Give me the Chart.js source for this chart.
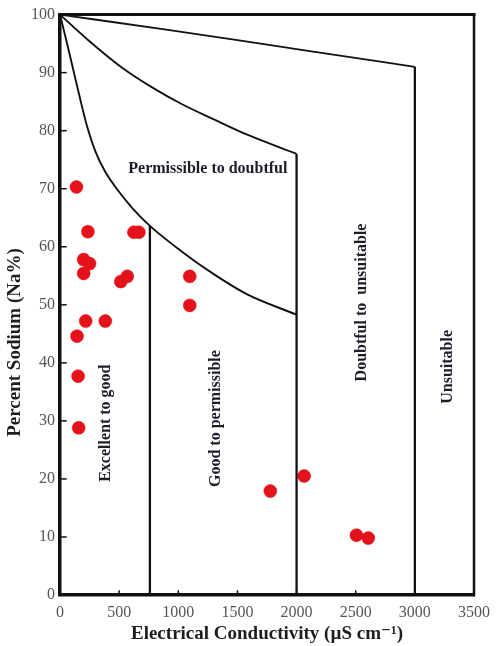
<!DOCTYPE html>
<html>
<head>
<meta charset="utf-8">
<title>Wilcox diagram</title>
<script src="https://cdn.jsdelivr.net/npm/chart.js@4.4.1/dist/chart.umd.min.js"></script>
<style>
  html, body { margin: 0; padding: 0; background: #ffffff; }
  #wrap { width: 498px; height: 646px; }
</style>
</head>
<body>
<div id="wrap"><canvas id="chart" width="498" height="646"></canvas></div>
<script>
// Water samples: electrical conductivity (µS/cm) and percent sodium
const sampleEC = [139, 236, 625, 667, 200, 250, 200, 514, 569, 1097, 1097, 217, 383, 144, 153, 158, 1778, 2064, 2506, 2606];
const sampleNa = [70.3, 62.6, 62.5, 62.5, 57.8, 57.1, 55.4, 54.0, 54.9, 54.9, 49.9, 47.2, 47.2, 44.6, 37.7, 28.8, 17.9, 20.5, 10.3, 9.8];

// Class boundaries of the Wilcox diagram
const lowerCurveEC = [0, 55, 111, 170, 231, 300, 380, 494, 619, 760, 1028, 1306, 1583, 2000];
const lowerCurveNa = [100, 95.4, 90.6, 85.5, 80.6, 76.4, 73.0, 69.6, 66.5, 63.6, 59.2, 55.2, 51.8, 48.3];
const middleCurveEC = [0, 244, 522, 800, 1028, 1306, 1583, 2000];
const middleCurveNa = [100, 95.5, 90.9, 87.2, 84.6, 81.9, 79.3, 76.0];
const upperCurveEC = [0, 883, 1500, 2083, 3000];
const upperCurveNa = [100, 97.45, 95.6, 93.8, 91.0];

// Vertical class limits: EC value and the height where each meets its curve
const limitEC = [760, 2000, 3000];
const limitNa = [63.6, 76, 91];

// Axis ticks
const ecTicks = [0, 500, 1000, 1500, 2000, 2500, 3000, 3500];
const naTicks = [0, 10, 20, 30, 40, 50, 60, 70, 80, 90, 100];

// Class names and where they sit (data units)
const zoneNames = ['Permissible to doubtful', 'Excellent to good', 'Good to permissible', 'Doubtful to  unsuitable', 'Unsuitable'];
const zoneEC = [1250, 389, 1317, 2556, 3275];
const zoneNa = [73.5, 29.6, 30.4, 50.4, 39.3];
const zoneVertical = [false, true, true, true, true];

const toPoints = (xs, ys) => xs.map((x, i) => ({ x: x, y: ys[i] }));

const boundaryStyle = {
  showLine: true,
  borderColor: '#111111',
  borderWidth: 1.9,
  pointRadius: 0,
  pointHoverRadius: 0,
  fill: false,
  clip: 4
};

const datasets = [
  Object.assign({ label: 'lower', data: toPoints(lowerCurveEC, lowerCurveNa), cubicInterpolationMode: 'monotone' }, boundaryStyle),
  Object.assign({ label: 'middle', data: toPoints(middleCurveEC, middleCurveNa), cubicInterpolationMode: 'monotone' }, boundaryStyle),
  Object.assign({ label: 'upper', data: toPoints(upperCurveEC, upperCurveNa), cubicInterpolationMode: 'monotone' }, boundaryStyle)
];
limitEC.forEach((ec, i) => {
  datasets.push(Object.assign({ label: 'limit ' + ec, data: [{ x: ec, y: 0 }, { x: ec, y: limitNa[i] }], tension: 0 }, boundaryStyle, { borderWidth: 2.3 }));
});
datasets.push({
  label: 'Samples',
  data: toPoints(sampleEC, sampleNa),
  showLine: false,
  pointRadius: 6.5,
  pointHoverRadius: 6.5,
  pointBackgroundColor: '#e3121b',
  pointBorderColor: '#e3121b',
  pointBorderWidth: 0.5
});

const serif = '"Liberation Serif", "DejaVu Serif", serif';

// Frame, inward tick marks, y-axis title and class names
const decorations = {
  id: 'decorations',
  afterDatasetsDraw(chart) {
    const ctx = chart.ctx;
    const a = chart.chartArea;
    const xs = chart.scales.x, ys = chart.scales.y;
    ctx.save();
    ctx.strokeStyle = '#111111';
    ctx.lineCap = 'square';
    // top and right edges of the frame
    ctx.lineWidth = 3;
    ctx.beginPath();
    ctx.moveTo(a.left, a.top);
    ctx.lineTo(a.right, a.top);
    ctx.stroke();
    ctx.lineWidth = 2.5;
    ctx.beginPath();
    ctx.moveTo(a.right, a.top);
    ctx.lineTo(a.right, a.bottom);
    ctx.stroke();
    // inward ticks
    ctx.lineWidth = 1.5;
    naTicks.forEach(v => {
      const py = ys.getPixelForValue(v);
      ctx.beginPath();
      ctx.moveTo(a.left, py);
      ctx.lineTo(a.left + 6, py);
      ctx.stroke();
    });
    ecTicks.forEach(v => {
      const px = xs.getPixelForValue(v);
      ctx.beginPath();
      ctx.moveTo(px, a.bottom);
      ctx.lineTo(px, a.bottom - 4);
      ctx.stroke();
    });
    // y-axis title, set a little below the middle of the axis
    ctx.fillStyle = '#1e1e1e';
    ctx.font = 'bold 19px ' + serif;
    ctx.textAlign = 'center';
    ctx.textBaseline = 'middle';
    ctx.save();
    ctx.translate(15, ys.getPixelForValue(43.5));
    ctx.rotate(-Math.PI / 2);
    ctx.fillText('Percent Sodium (Na%)', 0, 0);
    ctx.restore();
    // class names
    ctx.fillStyle = '#1c1c2a';
    ctx.font = 'bold 16px ' + serif;
    zoneNames.forEach((name, i) => {
      const px = xs.getPixelForValue(zoneEC[i]);
      const py = ys.getPixelForValue(zoneNa[i]);
      ctx.save();
      ctx.translate(px, py);
      if (zoneVertical[i]) ctx.rotate(-Math.PI / 2);
      ctx.fillText(name, 0, 0);
      ctx.restore();
    });
    ctx.restore();
  }
};

const whiteBackground = {
  id: 'whiteBackground',
  beforeDraw(chart) {
    const ctx = chart.ctx;
    ctx.save();
    ctx.fillStyle = '#ffffff';
    ctx.fillRect(0, 0, chart.width, chart.height);
    ctx.restore();
  }
};

new Chart(document.getElementById('chart'), {
  type: 'scatter',
  data: { datasets: datasets },
  options: {
    responsive: false,
    animation: false,
    events: [],
    layout: { padding: { top: 14, right: 18, left: 0, bottom: 0 } },
    plugins: { legend: { display: false }, tooltip: { enabled: false } },
    scales: {
      x: {
        type: 'linear',
        min: 0,
        max: 3500,
        afterBuildTicks(scale) { scale.ticks = ecTicks.map(v => ({ value: v })); },
        afterFit(scale) { scale.height = 51; },
        ticks: {
          color: '#555555',
          padding: 8,
          maxRotation: 0,
          font: { family: serif, size: 16 },
          callback: v => String(v)
        },
        grid: { display: false, drawTicks: false },
        border: { display: true, color: '#111111', width: 3.5 },
        title: {
          display: true,
          text: 'Electrical Conductivity (µS cm⁻¹)',
          color: '#1e1e1e',
          font: { family: serif, size: 19, weight: 'bold' },
          padding: { top: 0, bottom: 1 }
        }
      },
      y: {
        type: 'linear',
        min: 0,
        max: 100,
        afterBuildTicks(scale) { scale.ticks = naTicks.map(v => ({ value: v })); },
        afterFit(scale) { scale.width = 60; },
        ticks: {
          color: '#555555',
          padding: 5,
          font: { family: serif, size: 16 },
          callback: v => String(v)
        },
        grid: { display: false, drawTicks: false },
        border: { display: true, color: '#111111', width: 3.5 }
      }
    }
  },
  plugins: [whiteBackground, decorations]
});
</script>
</body>
</html>
